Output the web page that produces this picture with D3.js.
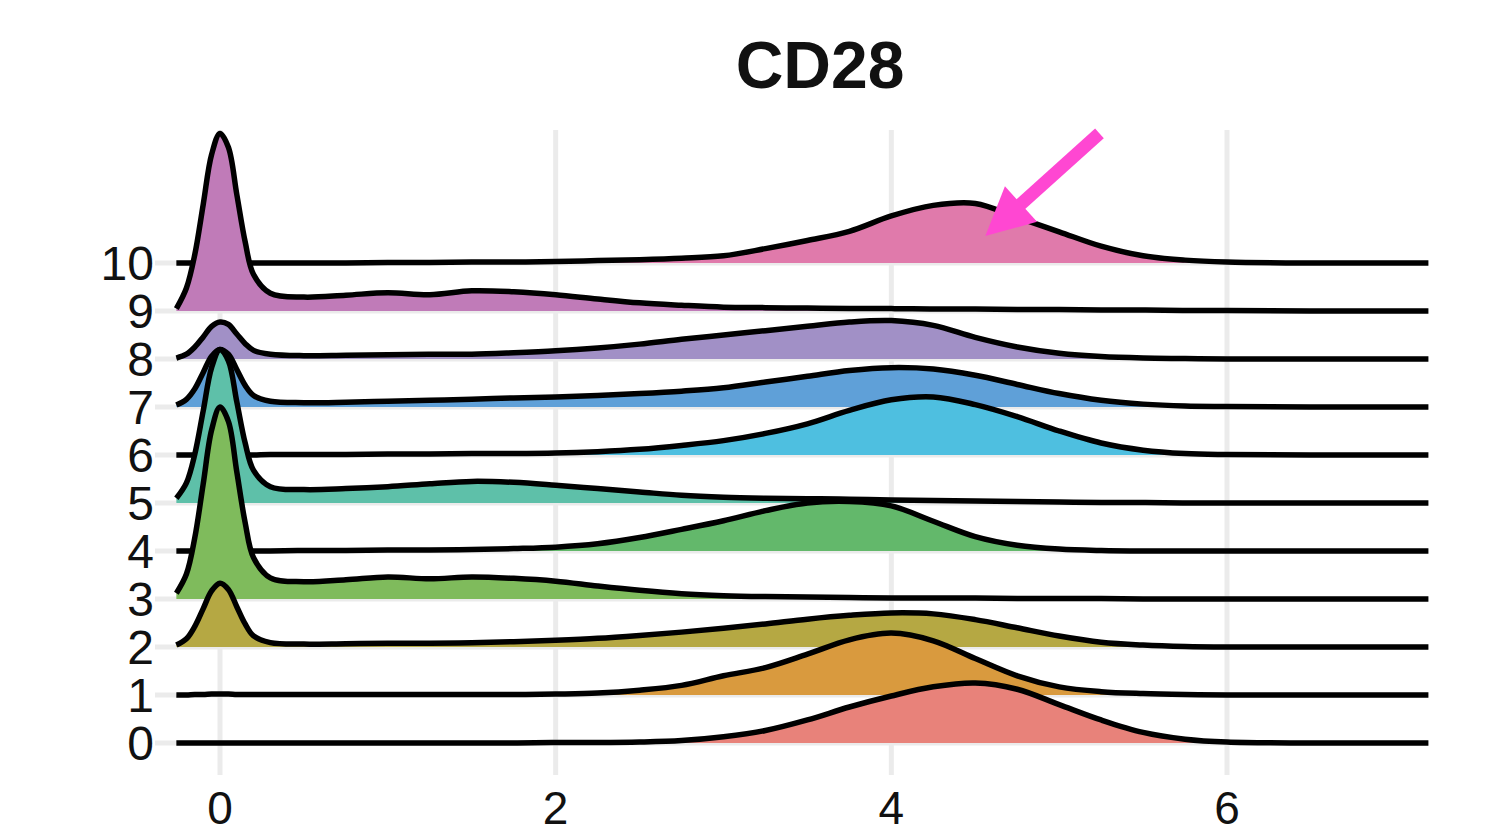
<!DOCTYPE html>
<html>
<head>
<meta charset="utf-8">
<script src="https://cdn.jsdelivr.net/npm/d3@7"></script>
<style>
  body { margin: 0; background: #fff; }
  svg { display: block; font-family: "Liberation Sans", Arial, Helvetica, sans-serif; }
</style>
</head>
<body>
<svg width="1503" height="836"></svg>
<script>
// clusters, bottom to top
var clusters = ["0", "1", "2", "3", "4", "5", "6", "7", "8", "9", "10"];
var fills = ["#e8827a", "#d99a3e", "#b5a843", "#7fbb5c", "#63b86b", "#5ec0a9",
             "#4ebfe0", "#5fa0d8", "#a190c6", "#c07bb8", "#e07aab"];
var xTicks = [0, 2, 4, 6];
var title = "CD28";

// expression grid shared by every ridge
var xs = [-0.26, -0.2, -0.15, -0.1, -0.05, 0, 0.05, 0.1, 0.15, 0.2, 0.3, 0.5, 0.75,
          1.0, 1.25, 1.5, 1.75, 2.0, 2.25, 2.5, 2.75, 3.0, 3.25, 3.5, 3.75, 4.0,
          4.25, 4.5, 4.75, 5.0, 5.25, 5.5, 5.75, 6.0, 6.5, 7.2];

// ridge heights (1 = one row of spacing)
var d0  = [0,0,0,0,0, 0,0,0,0,0, 0,0,0,0,0, 0,0,0.01,0.01,0.02, 0.05,0.13,0.26,0.48,0.75, 0.98,1.17,1.25,1.12,0.8, 0.48,0.22,0.08,0.02,0,0];
var d1  = [0,0,0.01,0.01,0.02, 0.02,0.02,0.01,0.01,0.01, 0.01,0.01,0.01,0.01,0.01, 0.01,0.01,0.02,0.04,0.1, 0.2,0.4,0.57,0.85,1.15, 1.29,1.13,0.76,0.4,0.17, 0.07,0.03,0.01,0,0,0];
var d2  = [0.04,0.17,0.43,0.8,1.17, 1.33,1.2,0.84,0.48,0.23, 0.09,0.06,0.07,0.08,0.08, 0.09,0.11,0.14,0.18,0.24, 0.31,0.39,0.48,0.58,0.66, 0.71,0.69,0.57,0.4,0.23, 0.1,0.04,0.01,0,0,0];
var d3_ = [0.12,0.52,1.28,2.4,3.52, 4.0,3.7,2.65,1.59,0.86, 0.44,0.36,0.4,0.46,0.42, 0.46,0.43,0.37,0.27,0.18, 0.11,0.07,0.05,0.04,0.03, 0.02,0.02,0.02,0.01,0.01, 0.01,0,0,0,0,0];
var d4  = [0,0,0,0,0, 0,0,0,0,0, 0,0.01,0.01,0.02,0.02, 0.03,0.05,0.08,0.15,0.28, 0.45,0.63,0.84,1.0,1.03, 0.94,0.62,0.3,0.12,0.04, 0.01,0,0,0,0,0];
var d5  = [0.1,0.42,1.02,1.92,2.82, 3.2,2.96,2.11,1.25,0.68, 0.34,0.28,0.3,0.34,0.4, 0.45,0.43,0.37,0.3,0.23, 0.16,0.12,0.1,0.09,0.08, 0.06,0.05,0.04,0.03,0.02, 0.01,0.01,0,0,0,0];
var d6  = [0,0,0,0,0, 0,0,0,0,0, 0.01,0.01,0.01,0.02,0.02, 0.03,0.03,0.04,0.07,0.12, 0.2,0.3,0.45,0.65,0.93, 1.15,1.21,1.05,0.8,0.5, 0.25,0.1,0.03,0.01,0,0];
var d7  = [0.04,0.16,0.38,0.72,1.06, 1.2,1.1,0.78,0.45,0.24, 0.12,0.09,0.1,0.12,0.14, 0.16,0.19,0.21,0.24,0.28, 0.33,0.4,0.52,0.64,0.76, 0.82,0.79,0.66,0.47,0.28, 0.14,0.06,0.02,0.01,0,0];
var d8  = [0.02,0.1,0.25,0.46,0.68, 0.77,0.72,0.52,0.32,0.18, 0.1,0.07,0.08,0.09,0.1, 0.1,0.13,0.17,0.23,0.31, 0.41,0.5,0.59,0.68,0.77, 0.8,0.7,0.45,0.25,0.12, 0.05,0.02,0.01,0,0,0];
var d9  = [0.05,0.48,1.18,2.22,3.26, 3.7,3.41,2.43,1.44,0.76, 0.37,0.29,0.33,0.38,0.34, 0.42,0.4,0.34,0.25,0.17, 0.12,0.08,0.07,0.06,0.05, 0.05,0.04,0.04,0.03,0.03, 0.02,0.02,0.01,0.01,0,0];
var d10 = [0,0,0,0,0, 0,0,0,0,0, 0,0,0,0.01,0.01, 0.02,0.02,0.03,0.05,0.07, 0.1,0.15,0.3,0.47,0.66, 0.98,1.2,1.24,0.95,0.65, 0.35,0.15,0.06,0.02,0,0];
var densities = [d0, d1, d2, d3_, d4, d5, d6, d7, d8, d9, d10];

// annotation arrow, in data units (x, height above row "10")
var arrowFrom = [5.24, 2.7];
var arrowTo = [4.56, 0.56];

var svg = d3.select("svg");
var g = svg.append("g");

var x = d3.scaleLinear().domain([0, 6]).range([220, 1227]);
var y = d3.scalePoint().domain(clusters).range([743, 263]);
var h = d3.scaleLinear().domain([0, 1]).range([0, y.step()]);

var panelLeft = 155, panelTop = 130, panelBottom = 775;
var xEnd = x(xs[xs.length - 1]);
var curve = d3.curveCatmullRom.alpha(0.5);

// grid
g.selectAll("line.vgrid")
  .data(xTicks)
  .enter()
  .append("line")
  .attr("class", "vgrid")
  .attr("x1", (d) => x(d))
  .attr("x2", (d) => x(d))
  .attr("y1", panelTop)
  .attr("y2", panelBottom)
  .attr("stroke", "#ebebeb")
  .attr("stroke-width", 5);

g.selectAll("line.hgrid")
  .data(clusters)
  .enter()
  .append("line")
  .attr("class", "hgrid")
  .attr("x1", panelLeft)
  .attr("x2", xEnd)
  .attr("y1", (d) => y(d))
  .attr("y2", (d) => y(d))
  .attr("stroke", "#ebebeb")
  .attr("stroke-width", 5);

// ridges, top row first so lower rows overlay
var rows = clusters.map((c, i) => ({ name: c, fill: fills[i], vals: densities[i] })).reverse();

rows.forEach((row) => {
  var base = y(row.name);
  var area = d3.area()
    .curve(curve)
    .x((v, i) => x(xs[i]))
    .y0(base)
    .y1((v) => base - h(v));
  var line = d3.line()
    .curve(curve)
    .x((v, i) => x(xs[i]))
    .y((v) => base - h(v));

  var rg = g.append("g");
  rg.append("path")
    .datum(row.vals)
    .attr("d", area)
    .attr("fill", row.fill);
  rg.append("path")
    .datum(row.vals)
    .attr("d", line)
    .attr("fill", "none")
    .attr("stroke", "#000")
    .attr("stroke-width", 5.5)
    .attr("stroke-linejoin", "round");
});

// axis labels
g.selectAll("text.ylab")
  .data(clusters)
  .enter()
  .append("text")
  .attr("class", "ylab")
  .attr("x", 154)
  .attr("y", (d) => y(d) + 17)
  .attr("text-anchor", "end")
  .attr("font-size", 48)
  .attr("fill", "#111")
  .text((d) => d);

g.selectAll("text.xlab")
  .data(xTicks)
  .enter()
  .append("text")
  .attr("class", "xlab")
  .attr("x", (d) => x(d))
  .attr("y", 824)
  .attr("text-anchor", "middle")
  .attr("font-size", 46)
  .attr("fill", "#111")
  .text((d) => d);

svg.append("text")
  .attr("x", 820)
  .attr("y", 88)
  .attr("text-anchor", "middle")
  .attr("font-size", 66)
  .attr("font-weight", "bold")
  .attr("fill", "#111")
  .text(title);

// pink arrow
var top10 = y("10");
var p0 = [x(arrowFrom[0]), top10 - h(arrowFrom[1])];
var p1 = [x(arrowTo[0]), top10 - h(arrowTo[1])];
var dx = p1[0] - p0[0], dy = p1[1] - p0[1];
var len = Math.sqrt(dx * dx + dy * dy);
var ux = dx / len, uy = dy / len;
var headLen = 48, headHalf = 24;
var hb = [p1[0] - ux * headLen, p1[1] - uy * headLen];

svg.append("line")
  .attr("x1", p0[0])
  .attr("y1", p0[1])
  .attr("x2", hb[0] + ux * 4)
  .attr("y2", hb[1] + uy * 4)
  .attr("stroke", "#ff47d2")
  .attr("stroke-width", 13);

svg.append("polygon")
  .attr("points", [
    p1,
    [hb[0] - uy * headHalf, hb[1] + ux * headHalf],
    [hb[0] + uy * headHalf, hb[1] - ux * headHalf]
  ].map((p) => p.join(",")).join(" "))
  .attr("fill", "#ff47d2");
</script>
</body>
</html>
